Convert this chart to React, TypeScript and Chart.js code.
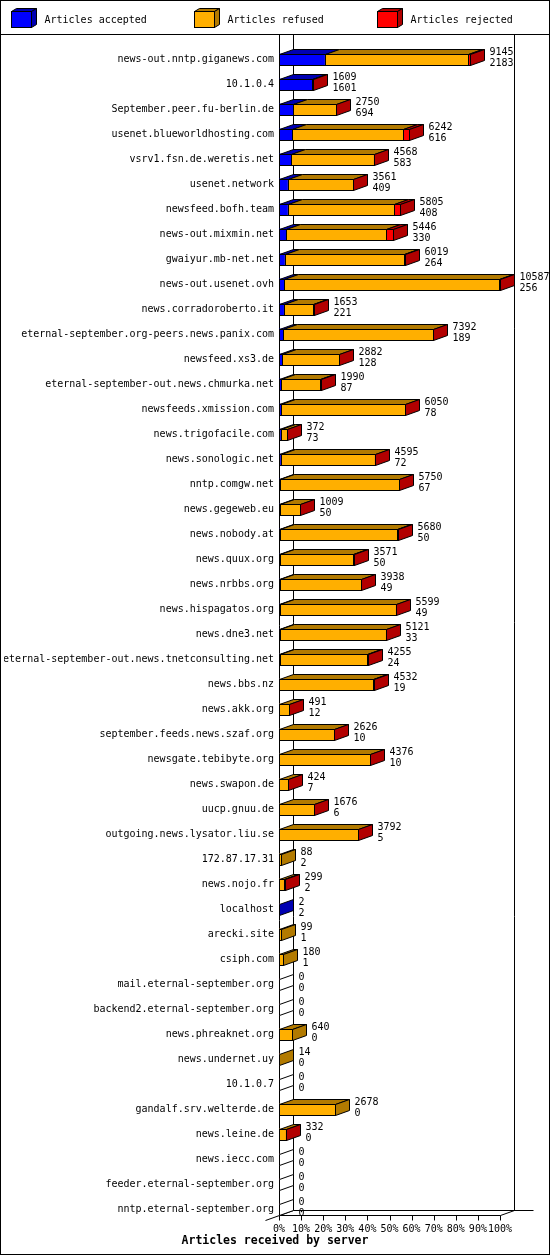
import React, { useEffect, useRef } from 'react';
import Chart from 'chart.js/auto';

// Servers, top to bottom
const servers = [
  'news-out.nntp.giganews.com', '10.1.0.4', 'September.peer.fu-berlin.de', 'usenet.blueworldhosting.com',
  'vsrv1.fsn.de.weretis.net', 'usenet.network', 'newsfeed.bofh.team', 'news-out.mixmin.net',
  'gwaiyur.mb-net.net', 'news-out.usenet.ovh', 'news.corradoroberto.it', 'eternal-september.org-peers.news.panix.com',
  'newsfeed.xs3.de', 'eternal-september-out.news.chmurka.net', 'newsfeeds.xmission.com', 'news.trigofacile.com',
  'news.sonologic.net', 'nntp.comgw.net', 'news.gegeweb.eu', 'news.nobody.at',
  'news.quux.org', 'news.nrbbs.org', 'news.hispagatos.org', 'news.dne3.net',
  'eternal-september-out.news.tnetconsulting.net', 'news.bbs.nz', 'news.akk.org', 'september.feeds.news.szaf.org',
  'newsgate.tebibyte.org', 'news.swapon.de', 'uucp.gnuu.de', 'outgoing.news.lysator.liu.se',
  '172.87.17.31', 'news.nojo.fr', 'localhost', 'arecki.site',
  'csiph.com', 'mail.eternal-september.org', 'backend2.eternal-september.org', 'news.phreaknet.org',
  'news.undernet.uy', '10.1.0.7', 'gandalf.srv.welterde.de', 'news.leine.de',
  'news.iecc.com', 'feeder.eternal-september.org', 'nntp.eternal-september.org',
];

// Total articles offered (upper number next to each bar)
const offered = [
  9145, 1609, 2750, 6242, 4568, 3561, 5805, 5446, 6019, 10587, 1653, 7392,
  2882, 1990, 6050, 372, 4595, 5750, 1009, 5680, 3571, 3938, 5599, 5121,
  4255, 4532, 491, 2626, 4376, 424, 1676, 3792, 88, 299, 2, 99,
  180, 0, 0, 640, 14, 0, 2678, 332, 0, 0, 0,
];

// Articles accepted (lower number next to each bar)
const accepted = [
  2183, 1601, 694, 616, 583, 409, 408, 330, 264, 256, 221, 189,
  128, 87, 78, 73, 72, 67, 50, 50, 50, 49, 49, 33,
  24, 19, 12, 10, 10, 7, 6, 5, 2, 2, 2, 1,
  1, 0, 0, 0, 0, 0, 0, 0, 0, 0, 0,
];

// Articles refused
const refused = [
  6882, 0, 2041, 5336, 3945, 3132, 5107, 4786, 5720, 10271, 1422, 7183,
  2739, 1893, 5957, 294, 4503, 5668, 954, 5615, 3506, 3879, 5535, 5073,
  4211, 4493, 469, 2606, 4356, 407, 1660, 3777, 86, 217, 0, 98,
  179, 0, 0, 640, 14, 0, 2678, 312, 0, 0, 0,
];

// Articles rejected
const rejected = [
  80, 8, 15, 290, 40, 20, 290, 330, 35, 60, 10, 20,
  15, 10, 15, 5, 20, 15, 5, 15, 15, 10, 15, 15,
  20, 20, 10, 10, 10, 10, 10, 10, 0, 80, 0, 0,
  0, 0, 0, 0, 0, 0, 0, 20, 0, 0, 0,
];

const seriesNames = ['Articles accepted', 'Articles refused', 'Articles rejected'];
const frontColours = ['#0000ff', '#ffaf00', '#ff0000'];
const shadeColours = ['#0000b2', '#b27a00', '#b20000'];
const percentTicks = ['0%', '10%', '20%', '30%', '40%', '50%', '60%', '70%', '80%', '90%', '100%'];
const chartTitle = 'Articles received by server';

const MONO = '"DejaVu Sans Mono", monospace';
const DX = 14;
const DY = 5;
const LEGEND_H = 34;

const maxOffered = Math.max(...offered);
const pct = (v: number) => (v / maxOffered) * 100;
const snap = (v: number) => Math.round(v) + 0.5;

function poly(ctx: CanvasRenderingContext2D, pts: number[][], fill: string) {
  ctx.beginPath();
  ctx.moveTo(pts[0][0], pts[0][1]);
  for (let i = 1; i < pts.length; i++) ctx.lineTo(pts[i][0], pts[i][1]);
  ctx.closePath();
  ctx.fillStyle = fill;
  ctx.fill();
  ctx.stroke();
}

function line(ctx: CanvasRenderingContext2D, x1: number, y1: number, x2: number, y2: number) {
  ctx.beginPath();
  ctx.moveTo(x1, y1);
  ctx.lineTo(x2, y2);
  ctx.stroke();
}

// draws the 3d walls, bar faces, value labels, legend and title
const depthPlugin = {
  id: 'depth3d',
  beforeDatasetsDraw(chart: any) {
    const { ctx } = chart;
    const xs = chart.scales.x;
    const x0 = snap(xs.getPixelForValue(0));
    const x100 = snap(xs.getPixelForValue(100));
    const meta = chart.getDatasetMeta(0).data;
    const last = meta[meta.length - 1];
    const floor = snap(last.y + last.height / 2);
    const top = LEGEND_H + 1;
    ctx.save();
    ctx.strokeStyle = '#000';
    ctx.lineWidth = 1;
    line(ctx, x0, top, x0, floor);
    line(ctx, x0 + DX, top, x0 + DX, floor - DY);
    line(ctx, x100 + DX, top, x100 + DX, floor - DY);
    line(ctx, x0 + DX, floor - DY, x100 + DX + 19, floor - DY);
    line(ctx, x0, floor, x100, floor);
    line(ctx, x100, floor, x100 + DX, floor - DY);
    line(ctx, x0 - DX, floor + DY, x0 + DX, floor - DY);
    xs.ticks.forEach((t: any) => {
      const px = snap(xs.getPixelForValue(t.value));
      line(ctx, px, floor, px, floor + 5);
    });
    ctx.restore();
  },
  afterDatasetsDraw(chart: any) {
    const { ctx } = chart;
    const xs = chart.scales.x;
    const x0 = snap(xs.getPixelForValue(0));
    const series = [accepted, refused, rejected];
    ctx.save();
    ctx.strokeStyle = '#000';
    ctx.lineWidth = 1;
    servers.forEach((_, row) => {
      const els = series.map((_, di) => chart.getDatasetMeta(di).data[row]);
      const cy = els[0].y;
      const top = snap(cy - els[0].height / 2);
      const bottom = snap(cy + els[0].height / 2);
      let end = x0;
      let sideColour = '#ffffff';
      els.forEach((el: any, di: number) => {
        if (series[di][row] <= 0) return;
        const a = snap(el.base);
        const b = snap(el.x);
        sideColour = shadeColours[di];
        end = b;
        if (b - a < 1) return;
        ctx.strokeRect(a, top, b - a, bottom - top);
        poly(ctx, [[a, top], [b, top], [b + DX, top - DY], [a + DX, top - DY]], shadeColours[di]);
      });
      poly(ctx, [[end, top], [end + DX, top - DY], [end + DX, bottom - DY], [end, bottom]], sideColour);

      const tx = snap(xs.getPixelForValue(pct(offered[row]))) + 19;
      ctx.fillStyle = '#000';
      ctx.font = `10px ${MONO}`;
      ctx.textAlign = 'left';
      ctx.textBaseline = 'alphabetic';
      ctx.fillText(String(offered[row]), tx, cy - 4.5);
      ctx.fillText(String(accepted[row]), tx, cy + 6.5);
    });
    ctx.restore();
  },
  afterDraw(chart: any) {
    const { ctx, width, height } = chart;
    ctx.save();
    ctx.strokeStyle = '#000';
    ctx.lineWidth = 1;
    // legend
    seriesNames.forEach((name, i) => {
      const x = 11.5 + i * 183;
      const y = 11.5;
      const w = 20;
      const h = 16;
      poly(ctx, [[x, y], [x + w, y], [x + w + 5, y - 3], [x + 5, y - 3]], shadeColours[i]);
      poly(ctx, [[x + w, y], [x + w + 5, y - 3], [x + w + 5, y + h - 3], [x + w, y + h]], shadeColours[i]);
      ctx.fillStyle = frontColours[i];
      ctx.fillRect(x, y, w, h);
      ctx.strokeRect(x, y, w, h);
      ctx.fillStyle = '#000';
      ctx.font = `10px ${MONO}`;
      ctx.textAlign = 'left';
      ctx.textBaseline = 'middle';
      ctx.fillText(name, x + 33, 20);
    });
    line(ctx, 0, LEGEND_H + 0.5, width, LEGEND_H + 0.5);
    // title
    ctx.fillStyle = '#000';
    ctx.font = `bold 11.5px ${MONO}`;
    ctx.textAlign = 'center';
    ctx.textBaseline = 'middle';
    ctx.fillText(chartTitle, width / 2, height - 14);
    // outer border
    ctx.strokeRect(0.5, 0.5, width - 1, height - 1);
    ctx.restore();
  },
};

const App: React.FC = () => {
  const chartRef = useRef<HTMLCanvasElement | null>(null);
  const chartInstance = useRef<Chart | null>(null);

  useEffect(() => {
    if (!chartRef.current) return;
    if (chartInstance.current) chartInstance.current.destroy();
    const ctx = chartRef.current.getContext('2d');
    if (!ctx) return;

    chartInstance.current = new Chart(ctx, {
      type: 'bar',
      data: {
        labels: servers,
        datasets: [accepted, refused, rejected].map((vals, i) => ({
          label: seriesNames[i],
          data: vals.map(pct),
          backgroundColor: frontColours[i],
          borderWidth: 0,
          barThickness: 11,
        })),
      },
      options: {
        indexAxis: 'y',
        responsive: false,
        animation: false,
        devicePixelRatio: 1,
        layout: { padding: { left: 4, right: 50, top: 47, bottom: 20 } },
        plugins: {
          legend: { display: false },
          tooltip: { enabled: false },
          title: { display: false },
        },
        scales: {
          x: {
            stacked: true,
            min: 0,
            max: 100,
            grid: { display: false, drawTicks: false },
            border: { display: false },
            ticks: {
              stepSize: 10,
              autoSkip: false,
              maxRotation: 0,
              minRotation: 0,
              padding: 1,
              color: '#000',
              font: { family: MONO, size: 10 },
              callback: (_v: any, i: number) => percentTicks[i],
            },
            afterFit: (s: any) => { s.height = 13; },
          },
          y: {
            stacked: true,
            grid: { display: false, drawTicks: false },
            border: { display: false },
            ticks: {
              autoSkip: false,
              padding: 5,
              color: '#000',
              font: { family: MONO, size: 10 },
            },
            afterFit: (s: any) => { s.width = 275; },
          },
        },
      },
      plugins: [depthPlugin],
    });

    return () => {
      if (chartInstance.current) {
        chartInstance.current.destroy();
        chartInstance.current = null;
      }
    };
  }, []);

  return (
    <div style={{ position: 'absolute', left: 0, top: 0, width: 550, height: 1255, background: '#fff' }}>
      <canvas ref={chartRef} width={550} height={1255} style={{ display: 'block' }}></canvas>
    </div>
  );
};

export default App;
